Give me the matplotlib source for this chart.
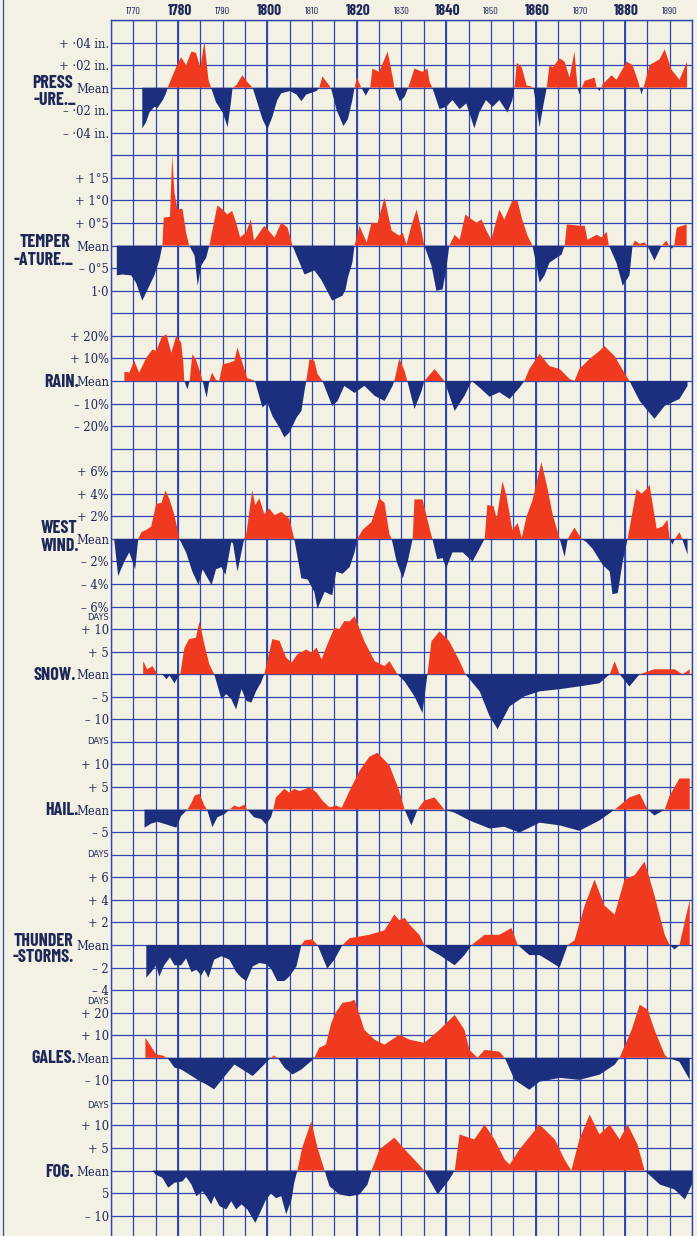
import numpy as np
import matplotlib
matplotlib.use("Agg")
import matplotlib.pyplot as plt
import matplotlib.transforms as mtransforms
from matplotlib.lines import Line2D

# ---- data: departures from the mean ----
press_years = [1772.0, 1772.8, 1773.6, 1774.7, 1775.4, 1776.6, 1777.3, 1777.7, 1778.7, 1780.0, 1780.7, 1781.8,
               1783.0, 1784.0, 1785.0, 1785.9, 1786.8, 1787.4, 1788.5, 1790.0, 1791.1, 1791.9, 1792.2, 1793.0,
               1794.4, 1795.5, 1796.7, 1797.8, 1798.9, 1800.0, 1801.1, 1802.2, 1803.1, 1805.0, 1806.5, 1807.6,
               1808.7, 1811.0, 1811.6, 1812.3, 1814.2, 1815.5, 1817.0, 1818.0, 1819.0, 1819.5, 1820.0, 1821.0,
               1822.0, 1823.0, 1823.5, 1825.0, 1826.9, 1828.0, 1828.4, 1829.6, 1830.7, 1831.5, 1832.9, 1834.7,
               1835.8, 1836.3, 1836.9, 1838.5, 1840.0, 1841.4, 1843.0, 1844.5, 1846.3, 1847.4, 1848.9, 1850.4,
               1851.9, 1853.7, 1854.8, 1855.3, 1855.8, 1856.9, 1858.0, 1859.1, 1859.5, 1860.9, 1861.6, 1862.5,
               1863.1, 1863.8, 1865.4, 1866.5, 1867.6, 1868.7, 1869.4, 1869.8, 1870.3, 1871.0, 1873.2, 1873.7,
               1874.3, 1875.0, 1877.0, 1878.1, 1880.4, 1881.7, 1883.0, 1883.7, 1884.3, 1885.5, 1887.7, 1888.9,
               1890.4, 1892.2, 1893.9]
press_vals = [-0.036, -0.031, -0.022, -0.017, -0.018, -0.011, -0.005, 0, 0.010, 0.022, 0.027, 0.020,
              0.032, 0.031, 0.018, 0.041, 0.007, 0, -0.013, -0.022, -0.035, -0.011, 0, 0.002,
              0.011, 0.005, 0, -0.014, -0.028, -0.037, -0.026, -0.011, -0.005, -0.003, -0.006, -0.012,
              -0.006, -0.003, 0, 0.010, 0, -0.020, -0.034, -0.028, -0.011, 0, 0.009, 0,
              -0.007, 0, 0.017, 0.014, 0.032, 0.010, 0, -0.012, -0.008, 0, 0.017, 0.014,
              0.017, 0.005, 0, -0.019, -0.017, -0.011, -0.019, -0.014, -0.036, -0.022, -0.011, -0.017,
              -0.011, -0.022, -0.011, 0, 0.022, 0.018, 0.002, 0.001, 0, -0.035, -0.019, 0,
              0.020, 0.018, 0.026, 0.023, 0.009, 0.032, 0, -0.006, 0, 0.006, 0.009, 0,
              -0.003, 0.003, 0.011, 0.007, 0.023, 0.020, 0.005, -0.006, 0.002, 0.020, 0.025, 0.034,
              0.016, 0.007, 0.023]

temp_years = [1766.3, 1767.5, 1769.5, 1770.6, 1772.0, 1773.6, 1774.7, 1775.8, 1776.5, 1776.8, 1778.2, 1778.7,
              1779.2, 1779.9, 1781.0, 1781.8, 1782.5, 1783.7, 1784.4, 1785.2, 1786.3, 1787.0, 1788.8, 1790.0,
              1791.0, 1792.1, 1793.0, 1793.9, 1795.2, 1796.3, 1797.0, 1799.3, 1801.6, 1803.1, 1804.5, 1805.6,
              1807.2, 1808.3, 1810.5, 1812.0, 1814.5, 1816.8, 1817.5, 1818.0, 1819.0, 1819.5, 1820.6, 1822.2,
              1823.3, 1824.6, 1826.2, 1827.8, 1829.5, 1830.3, 1831.1, 1832.2, 1833.4, 1834.4, 1835.1, 1836.7,
              1837.8, 1839.2, 1840.0, 1840.7, 1841.9, 1843.0, 1844.3, 1845.7, 1846.8, 1847.9, 1849.0, 1850.1,
              1850.8, 1851.9, 1853.0, 1854.8, 1856.0, 1857.0, 1858.2, 1859.3, 1860.2, 1860.9, 1862.0, 1863.1,
              1864.7, 1865.8, 1866.5, 1867.0, 1869.8, 1871.0, 1871.6, 1873.7, 1874.8, 1875.9, 1876.4, 1878.1,
              1879.5, 1881.0, 1881.7, 1882.2, 1883.3, 1884.4, 1885.0, 1886.6, 1888.2, 1889.3, 1889.9, 1890.5,
              1891.0, 1891.6, 1893.8]
temp_vals = [-0.66, -0.64, -0.66, -0.82, -1.22, -0.89, -0.66, -0.33, 0, 0.62, 0.64, 2.0,
             1.17, 0.80, 0.82, 0.29, 0, -0.22, -0.89, -0.44, -0.27, 0, 0.89, 0.80,
             0.69, 0.77, 0.51, 0.18, 0.29, 0.58, 0.11, 0.44, 0.18, 0.51, 0.40, 0,
             -0.38, -0.64, -0.55, -0.75, -1.22, -1.11, -0.97, -0.71, -0.38, 0, 0.44, 0.07,
             0.51, 0.49, 1.06, 0.33, 0.22, 0.29, 0.02, 0.44, 0.80, 0.36, 0, -0.44,
             -1.0, -0.97, -0.53, 0, 0.24, 0.13, 0.69, 0.58, 0.51, 0.58, 0.33, 0.13,
             0.40, 0.80, 0.58, 1.0, 0.98, 0.58, 0.22, 0, -0.44, -0.82, -0.66, -0.38,
             -0.27, -0.20, 0, 0.47, 0.44, 0.44, 0.13, 0.24, 0.18, 0.31, 0, -0.38,
             -0.89, -0.66, 0, 0.11, 0.04, 0.07, 0, -0.33, 0, 0.11, 0, -0.07,
             0, 0.40, 0.47]

rain_years = [1768.0, 1769.1, 1770.2, 1771.3, 1772.9, 1774.3, 1775.1, 1776.3, 1777.4, 1778.5, 1779.6, 1780.7,
              1781.2, 1781.4, 1782.1, 1782.6, 1783.2, 1784.0, 1785.2, 1785.5, 1786.4, 1787.0, 1787.6, 1788.5,
              1789.2, 1790.0, 1791.5, 1792.6, 1793.3, 1794.4, 1795.5, 1796.7, 1797.2, 1798.9, 1800.0, 1801.1,
              1802.7, 1803.8, 1804.9, 1806.5, 1807.6, 1808.3, 1808.7, 1809.4, 1810.5, 1811.2, 1812.3, 1814.5,
              1815.7, 1817.2, 1819.5, 1821.7, 1824.0, 1826.2, 1828.0, 1828.4, 1829.5, 1830.7, 1831.3, 1832.9,
              1834.5, 1835.1, 1837.4, 1839.2, 1839.6, 1841.9, 1844.1, 1845.7, 1847.5, 1849.7, 1851.9, 1854.2,
              1856.4, 1857.5, 1858.6, 1860.9, 1863.1, 1865.4, 1867.6, 1868.7, 1869.8, 1872.1, 1874.3, 1875.4,
              1877.7, 1879.9, 1881.0, 1883.3, 1886.6, 1888.9, 1892.2, 1894.0]
rain_vals = [4.1, 3.7, 8.9, 3.7, 10.3, 14.0, 13.3, 19.2, 20.7, 12.5, 20.0, 17.0,
             7.5, 0, -3.7, 0, 11.8, 9.6, 2.2, 0, -7.4, 0, 3.7, 0.5,
             0, 7.4, 8.1, 8.9, 14.8, 8.0, 1.2, 0.5, 0, -11.8, -9.6, -15.5,
             -20.7, -25.0, -22.9, -16.3, -13.3, -4.4, 0, 9.6, 8.9, 3.2, 0, -11.1,
             -8.9, -2.2, -5.3, -2.2, -6.6, -8.9, -2.2, 0, 9.8, 4.4, 0, -12.4,
             -4.4, 0, 5.3, 0.9, 0, -13.3, -6.6, 0, -3.0, -7.0, -5.0, -8.0,
             -3.0, 0, 5.3, 12.0, 6.6, 5.3, 0.9, 0, 5.3, 9.8, 13.3, 15.5,
             11.0, 3.5, 0, -8.9, -16.8, -11.0, -8.0, -2.2]

wind_years = [1765.7, 1766.6, 1768.0, 1769.1, 1769.8, 1770.4, 1771.1, 1771.8, 1772.9, 1774.0, 1775.1, 1776.3,
              1777.2, 1778.1, 1779.2, 1780.3, 1781.8, 1783.2, 1784.6, 1785.5, 1787.5, 1788.5, 1789.7, 1790.6,
              1791.9, 1792.3, 1793.3, 1794.8, 1795.3, 1796.6, 1797.3, 1798.2, 1799.3, 1800.4, 1801.6, 1803.1,
              1804.9, 1806.0, 1807.6, 1809.0, 1810.5, 1811.2, 1812.8, 1814.5, 1815.4, 1816.8, 1818.4, 1819.5,
              1820.1, 1821.3, 1823.3, 1825.0, 1826.2, 1827.3, 1827.8, 1828.9, 1830.3, 1831.4, 1832.5, 1832.9,
              1834.7, 1835.8, 1836.9, 1838.0, 1839.2, 1840.0, 1841.4, 1843.7, 1845.9, 1847.0, 1848.6, 1849.2,
              1850.6, 1851.3, 1852.6, 1853.5, 1854.8, 1856.0, 1856.9, 1858.0, 1859.3, 1861.3, 1862.5, 1863.8,
              1865.4, 1866.5, 1867.2, 1868.7, 1870.3, 1871.4, 1872.8, 1875.0, 1876.6, 1877.2, 1878.4, 1879.5,
              1880.6, 1882.6, 1883.7, 1884.8, 1885.5, 1887.1, 1888.4, 1889.5, 1890.0, 1890.6, 1891.2, 1892.2,
              1892.8, 1894.0]
wind_vals = [0, -3.3, -2.0, -1.2, -2.0, -2.7, 0, 0.6, 0.8, 1.1, 3.1, 3.2,
             4.3, 3.5, 2.1, 0, -1.2, -2.9, -4.1, -2.7, -4.1, -2.7, -2.5, -3.2,
             -0.3, -0.4, -2.9, 0, 0.5, 4.3, 3.0, 3.6, 2.2, 2.7, 2.1, 2.4,
             1.8, 0, -3.5, -3.6, -4.7, -6.2, -4.7, -5.0, -2.9, -3.1, -2.5, -1.2,
             0, 0.8, 1.5, 3.6, 3.2, 0.4, 0, -2.0, -3.5, -2.0, 0, 3.5,
             3.5, 1.7, 0, -1.8, -1.7, -2.6, -1.2, -1.2, -2.0, -1.2, 0, 3.0,
             2.9, 1.8, 5.1, 3.8, 0.8, 1.4, 0.1, 2.0, 3.4, 6.8, 4.8, 2.2,
             0, -1.6, 0, 1.0, 0, -0.3, -0.9, -2.3, -2.9, -4.9, -4.8, -2.0,
             0, 4.4, 4.0, 4.4, 4.8, 0.9, 1.1, 1.7, 0, -0.5, 0, 0.6,
             0, -1.4]

snow_years = [1772.2, 1773.1, 1774.3, 1775.4, 1776.5, 1777.4, 1778.1, 1779.2, 1779.9, 1780.5, 1781.4, 1782.5,
              1784.0, 1784.8, 1785.9, 1787.0, 1788.1, 1789.7, 1790.8, 1791.9, 1793.0, 1794.2, 1795.3, 1796.4,
              1797.5, 1798.6, 1799.3, 1801.1, 1802.7, 1804.2, 1805.4, 1806.7, 1808.7, 1809.8, 1811.0, 1812.1,
              1813.4, 1815.0, 1816.1, 1817.2, 1818.4, 1819.5, 1821.7, 1824.0, 1826.2, 1827.3, 1829.1, 1830.7,
              1832.9, 1834.7, 1835.8, 1836.7, 1838.5, 1840.7, 1843.0, 1844.3, 1847.5, 1849.7, 1851.5, 1854.2,
              1857.5, 1860.9, 1865.4, 1869.8, 1874.3, 1876.6, 1877.7, 1878.8, 1881.0, 1883.3, 1886.6, 1891.1,
              1892.9, 1894.5]
snow_vals = [2.9, 1.1, 1.8, 0, 0, -1.1, -0.3, -2.0, -0.8, 0, 5.8, 7.8,
             8.1, 11.7, 6.6, 2.2, 0, -5.5, -4.4, -5.5, -7.8, -3.3, -5.9, -6.3,
             -3.7, -1.8, 0, 7.8, 7.4, 3.7, 2.6, 4.4, 5.5, 4.8, 5.9, 3.3,
             6.6, 10.3, 10.0, 11.8, 11.7, 12.9, 7.3, 2.9, 1.8, 2.9, 0, -1.6,
             -4.9, -8.6, 0, 7.3, 9.5, 7.3, 2.9, 0, -3.8, -9.3, -12.2, -7.1,
             -4.9, -3.8, -3.3, -2.7, -2.0, 0, 2.9, 0, -2.7, 0, 1.1, 1.1,
             0, 1.1]

hail_years = [1772.5, 1774.0, 1775.4, 1777.4, 1779.6, 1780.7, 1782.1, 1783.0, 1783.7, 1784.8, 1785.9, 1786.5,
              1787.7, 1788.8, 1790.4, 1791.5, 1792.6, 1793.7, 1794.8, 1795.5, 1797.0, 1798.6, 1799.7, 1800.8,
              1801.3, 1801.9, 1803.8, 1804.9, 1806.0, 1807.2, 1809.4, 1811.0, 1812.3, 1813.9, 1815.4, 1816.6,
              1817.7, 1818.4, 1820.6, 1822.8, 1824.6, 1827.3, 1829.5, 1830.7, 1832.2, 1833.6, 1835.1, 1837.4,
              1839.6, 1841.9, 1845.2, 1849.7, 1853.0, 1856.4, 1860.9, 1865.4, 1869.8, 1874.3, 1877.7, 1881.0,
              1883.3, 1885.1, 1886.6, 1888.9, 1890.0, 1892.2, 1894.5]
hail_vals = [-4.0, -3.1, -2.7, -3.3, -4.0, -1.4, 0, 1.5, 3.1, 3.5, 0.9, 0,
             -3.9, -1.7, -1.0, 0, 0.9, 0.5, 1.1, 0, -1.7, -2.1, -3.3, -1.7,
             0, 2.7, 4.6, 3.8, 4.6, 4.1, 4.9, 3.8, 2.0, 0.5, 0.9, 0.4,
             2.7, 4.2, 8.6, 11.7, 12.6, 9.8, 4.2, 0, -3.5, 0, 2.0, 2.7,
             0, -0.7, -2.4, -4.2, -3.8, -5.1, -2.9, -3.5, -4.7, -2.4, 0, 2.7,
             3.5, 0, -1.3, 0, 3.1, 6.9, 6.9]

thunder_years = [1772.9, 1774.0, 1775.1, 1775.8, 1776.9, 1778.2, 1779.2, 1780.7, 1781.8, 1783.0, 1784.1, 1785.2,
                 1785.9, 1786.8, 1788.1, 1789.7, 1791.5, 1793.0, 1794.2, 1795.3, 1796.7, 1798.2, 1799.7, 1800.8,
                 1802.2, 1803.8, 1804.9, 1806.5, 1807.6, 1808.3, 1810.0, 1811.2, 1813.4, 1815.0, 1816.8, 1818.4,
                 1822.8, 1826.2, 1828.4, 1829.5, 1830.7, 1831.8, 1834.0, 1835.1, 1836.3, 1838.5, 1841.9, 1844.1,
                 1845.7, 1848.6, 1851.9, 1854.6, 1856.0, 1858.6, 1860.9, 1865.4, 1867.2, 1868.7, 1871.0, 1873.2,
                 1875.4, 1877.7, 1879.9, 1882.2, 1884.4, 1886.6, 1888.9, 1890.0, 1891.1, 1892.2, 1894.5]
thunder_vals = [-2.9, -2.4, -1.8, -2.8, -1.8, -1.1, -1.8, -1.8, -1.2, -2.4, -2.2, -2.7,
                -2.2, -2.9, -1.3, -1.0, -1.3, -2.4, -2.9, -3.2, -1.9, -1.6, -1.7, -2.1,
                -3.2, -3.2, -2.8, -1.9, 0, 0.4, 0.5, 0, -2.1, -1.3, 0, 0.6,
                0.9, 1.3, 2.7, 2.2, 2.4, 1.8, 0.9, 0, -0.4, -0.9, -1.8, -0.9,
                0, 0.9, 0.9, 1.5, 0, -0.9, -0.9, -2.0, 0, 0.4, 3.5, 5.8,
                3.5, 2.7, 5.8, 6.2, 7.4, 4.4, 0.9, 0, -0.4, 0, 4.0]

gales_years = [1772.7, 1774.0, 1775.1, 1776.5, 1777.6, 1779.2, 1780.7, 1782.5, 1784.8, 1786.3, 1788.1, 1789.3,
               1791.1, 1792.6, 1794.4, 1796.7, 1798.6, 1800.0, 1800.8, 1801.4, 1802.3, 1803.8, 1805.6, 1807.6,
               1809.8, 1810.5, 1811.6, 1813.1, 1814.3, 1815.4, 1816.8, 1818.4, 1819.5, 1821.7, 1824.0, 1826.2,
               1829.5, 1831.8, 1835.1, 1838.5, 1841.9, 1844.1, 1845.2, 1847.0, 1848.6, 1851.9, 1853.1, 1855.3,
               1858.6, 1860.9, 1865.4, 1869.8, 1874.3, 1877.7, 1878.8, 1881.5, 1883.3, 1885.1, 1886.6, 1888.9,
               1889.6, 1892.2, 1894.5]
gales_vals = [8.9, 4.9, 1.5, 1.0, 0, -4.4, -5.2, -7.4, -10.3, -11.8, -14.0, -11.0,
              -6.6, -3.0, -5.2, -8.1, -4.4, -1.5, 0, 1.0, 0, -4.4, -7.4, -5.2,
              -1.5, 0, 4.4, 5.9, 15.5, 20.4, 24.4, 24.8, 25.7, 12.4, 8.0, 5.8,
              10.2, 8.0, 6.6, 12.4, 19.0, 12.4, 3.5, 0, 3.5, 2.7, 0, -9.8,
              -14.2, -10.6, -8.9, -9.8, -7.5, -3.1, 0, 12.4, 23.5, 21.3, 12.4, 1.3,
              0, -1.8, -9.8]

fog_years = [1774.3, 1775.0, 1776.5, 1777.8, 1779.2, 1781.0, 1781.8, 1783.0, 1784.1, 1785.5, 1786.6, 1787.4,
             1788.1, 1789.3, 1790.8, 1791.9, 1793.0, 1794.2, 1795.5, 1797.3, 1798.2, 1799.7, 1800.8, 1801.9,
             1803.1, 1804.2, 1805.4, 1806.0, 1806.7, 1807.8, 1809.8, 1811.2, 1812.8, 1813.9, 1816.1, 1818.4,
             1820.6, 1822.4, 1823.3, 1825.1, 1828.4, 1830.7, 1832.9, 1835.1, 1838.1, 1840.7, 1841.9, 1843.0,
             1846.3, 1848.6, 1850.8, 1853.1, 1854.2, 1856.4, 1860.9, 1864.3, 1866.5, 1868.0, 1869.8, 1872.1,
             1874.3, 1876.6, 1878.8, 1880.6, 1882.8, 1884.4, 1887.8, 1891.1, 1893.4, 1895.0]
fog_vals = [0, -0.9, -1.6, -3.8, -2.7, -2.4, -1.4, -3.1, -5.7, -4.6, -6.1, -7.5,
            -5.7, -7.9, -8.6, -6.8, -8.6, -7.5, -8.6, -11.6, -9.7, -6.4, -5.1, -6.1,
            -5.7, -9.7, -6.4, -2.7, 0, 5.1, 10.9, 5.1, 0, -3.5, -5.3, -5.7,
            -5.3, -3.1, 0, 4.7, 7.3, 4.7, 2.4, 0, -5.3, -2.0, 0, 8.0,
            6.9, 10.2, 6.9, 2.4, 1.3, 4.7, 10.2, 6.9, 2.4, 0, 6.9, 12.4,
            8.0, 10.2, 6.9, 10.2, 5.8, 0, -3.1, -4.2, -6.4, -3.1]

decades = [1770, 1780, 1790, 1800, 1810, 1820, 1830, 1840, 1850, 1860, 1870, 1880, 1890]

press_ticks = ['+ ·04 in.', '+ ·02 in.', 'Mean', '– ·02 in.', '– ·04 in.']
temp_ticks = ['+ 1°5', '+ 1°0', '+ 0°5', 'Mean', '– 0°5', '1·0']
rain_ticks = ['+ 20%', '+ 10%', 'Mean', '– 10%', '– 20%']
wind_ticks = ['+ 6%', '+ 4%', '+ 2%', 'Mean', '– 2%', '– 4%', '– 6%']
snow_ticks = ['+ 10', '+ 5', 'Mean', '– 5', '– 10']
hail_ticks = ['+ 10', '+ 5', 'Mean', '– 5']
thunder_ticks = ['+ 6', '+ 4', '+ 2', 'Mean', '– 2', '– 4']
gales_ticks = ['+ 20', '+ 10', 'Mean', '– 10']
fog_ticks = ['+ 10', '+ 5', 'Mean', '5', '– 10']

# ---- page layout (pixels) ----
W, H = 697, 1236
TOP = 20
CELL = 22.56
X0, X1 = 111, 692
NROWS = (H - TOP) / CELL

BG = '#f3f1e4'
GRID = '#2f45b0'
INK = '#1e2858'
RED = '#ef3a1f'
BLUE = '#1c2f7e'

NARROW = 'Barlow Condensed'
SERIF = 'DejaVu Serif'

fig = plt.figure(figsize=(W / 100, H / 100), dpi=100, facecolor=BG)

# squared paper behind all the curves
grid_ax = fig.add_axes([X0 / W, 0, (X1 - X0) / W, (H - TOP) / H], facecolor=BG)
grid_ax.set_xlim(1765, 1895)
grid_ax.set_ylim(NROWS, 0)
grid_ax.set_xticks(np.arange(1765, 1896, 5))
grid_ax.set_yticks(np.arange(0, NROWS, 1))
grid_ax.grid(True, color=GRID, lw=0.9)
grid_ax.tick_params(length=0, labelbottom=False, labelleft=False)
for yr in range(1780, 1881, 20):
    grid_ax.axvline(yr, color=GRID, lw=1.4)
for side in ['top', 'left', 'right']:
    grid_ax.spines[side].set_color(GRID)
    grid_ax.spines[side].set_linewidth(1.0)
grid_ax.spines['bottom'].set_visible(False)

for yr in decades:
    big = yr % 20 == 0
    grid_ax.text(yr + (0.4 if big else 0), -0.38, str(yr), ha='center', va='center',
                 fontsize=11 if big else 7.5, fontweight='bold' if big else 'normal',
                 family=NARROW, color=INK, clip_on=False)

fig.add_artist(Line2D([3 / W, 3 / W], [0, 1], color=GRID, lw=0.9))

# (row of mean line, units per square, years, values, tick labels, name lines, DAYS row offset)
panels = [
    (3, 0.02, press_years, press_vals, press_ticks, [('PRESS', -4, 73), ('-URE._', 13, 76)], None),
    (10, 0.5, temp_years, temp_vals, temp_ticks, [('TEMPER', -3, 70), ('-ATURE._', 15, 73)], None),
    (16, 10, rain_years, rain_vals, rain_ticks, [('RAIN.', 2, 79)], None),
    (23, 2, wind_years, wind_vals, wind_ticks, [('WEST', -10, 77), ('WIND.', 8, 79)], None),
    (29, 5, snow_years, snow_vals, snow_ticks, [('SNOW.', 1, 76)], 2.5),
    (35, 5, hail_years, hail_vals, hail_ticks, [('HAIL.', 1, 79)], 3.0),
    (41, 2, thunder_years, thunder_vals, thunder_ticks, [('THUNDER', -3, 73), ('-STORMS.', 13, 74)], 4.0),
    (46, 10, gales_years, gales_vals, gales_ticks, [('GALES.', 1, 76)], 2.5),
    (51, 5, fog_years, fog_vals, fog_ticks, [('FOG.', 2, 74)], 2.9),
]

for row, unit, years, vals, ticks, names, days_off in panels:
    mean_px = TOP + CELL * row
    ax = fig.add_axes([X0 / W, 1 - (mean_px + 5 * CELL) / H, (X1 - X0) / W, 10 * CELL / H],
                      facecolor='none')
    ax.set_xlim(1765, 1895)
    ax.set_ylim(-5 * unit, 5 * unit)
    x = np.array(years)
    v = np.array(vals)
    ax.fill_between(x, v, 0, where=v >= 0, interpolate=True, color=RED, lw=0)
    ax.fill_between(x, v, 0, where=v <= 0, interpolate=True, color=BLUE, lw=0)

    n_up = ticks.index('Mean')
    tick_pos = [(n_up - i) * unit for i in range(len(ticks))]
    ax.set_yticks(tick_pos, ticks)
    ax.tick_params(axis='y', length=0, pad=1.5, labelsize=8.3, labelcolor=INK, labelfontfamily=SERIF)
    ax.set_xticks([])
    for s in ax.spines.values():
        s.set_visible(False)

    if days_off is not None:
        trans = mtransforms.blended_transform_factory(ax.transAxes, ax.transData)
        ax.text(-0.004, days_off * unit, 'DAYS', transform=trans, ha='right', va='center',
                fontsize=6, color=INK, family='DejaVu Sans')

    for text, dy, right in names:
        fig.text(right / W, 1 - (mean_px + dy) / H, text, ha='right', va='center',
                 fontsize=13, fontweight='bold', family=NARROW, color=INK)

fig.savefig('out.png', dpi=100, facecolor=BG)
